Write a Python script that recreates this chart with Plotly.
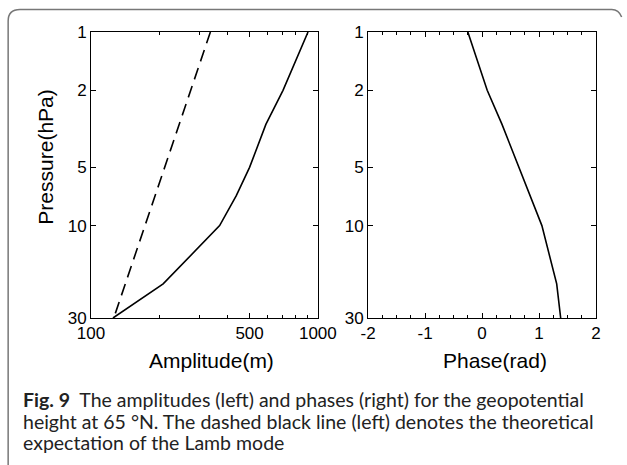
import numpy as np
import plotly.graph_objects as go

W, H = 627, 465
ML, MR, MT, MB = 91, 24, 32, 147

pressure = [1, 2, 3, 5, 7, 10, 20, 30]
amp_obs = [905, 702, 590, 500, 437, 369, 208, 125]
amp_lamb = [336, 275, 244, 211, 191, 173, 142, 126]
phase = [-0.25, 0.09, 0.35, 0.65, 0.85, 1.05, 1.31, 1.38]

p_ticks = [1, 2, 5, 10, 30]
amp_ticks = [100, 500, 1000]
amp_minor = [200, 300, 400, 600, 700, 800, 900]
phase_ticks = [-2, -1, 0, 1, 2]

caption_lines = [
    "<b>Fig. 9</b>  The amplitudes (left) and phases (right) for the geopotential",
    "height at 65 °N. The dashed black line (left) denotes the theoretical",
    "expectation of the Lamb mode",
]

PW = W - ML - MR
PH = H - MT - MB


def px(x):
    return (x - ML) / PW


def py(y):
    return (H - MB - y) / PH


fig = go.Figure()
fig.add_trace(go.Scatter(x=amp_obs, y=pressure, mode="lines",
                         line=dict(color="black", width=1.6),
                         xaxis="x", yaxis="y", showlegend=False))
fig.add_trace(go.Scatter(x=amp_lamb, y=pressure, mode="lines",
                         line=dict(color="black", width=1.6, dash="12px,7px"),
                         xaxis="x", yaxis="y", showlegend=False))
fig.add_trace(go.Scatter(x=phase, y=pressure, mode="lines",
                         line=dict(color="black", width=1.6),
                         xaxis="x2", yaxis="y2", showlegend=False))

tickfont = dict(family="Arial", size=17, color="black")
common = dict(showgrid=False, zeroline=False, showline=True, linecolor="black",
              linewidth=1, mirror="allticks", ticks="inside", ticklen=5,
              tickcolor="black", tickfont=tickfont)

yax = dict(type="log", range=[np.log10(30), 0], tickmode="array",
           tickvals=p_ticks, ticktext=[str(v) for v in p_ticks], **common)

fig.update_layout(
    width=W, height=H,
    margin=dict(l=ML, r=MR, t=MT, b=MB, pad=0),
    paper_bgcolor="white", plot_bgcolor="white",
    xaxis=dict(domain=[0, px(321)], type="log", range=[2, 3], anchor="y",
               tickmode="array", tickvals=amp_ticks,
               ticktext=[str(v) for v in amp_ticks],
               minor=dict(tickvals=amp_minor, ticks="inside", ticklen=3,
                          tickcolor="black"),
               **common),
    yaxis=dict(domain=[0, 1], anchor="x", **yax),
    xaxis2=dict(domain=[px(372), 1], range=[-2, 2], anchor="y2",
                tickmode="array", tickvals=phase_ticks,
                ticktext=[str(v) for v in phase_ticks],
                minor=dict(dtick=0.25, ticks="inside", ticklen=3,
                           tickcolor="black"),
                **common),
    yaxis2=dict(domain=[0, 1], anchor="x2", **yax),
)

titlefont = dict(family="Arial", size=21, color="black")
fig.add_annotation(text="Amplitude(m)", x=px(213), y=py(360), xref="paper", yref="paper",
                   showarrow=False, font=titlefont, xanchor="center", yanchor="middle")
fig.add_annotation(text="Phase(rad)", x=px(501), y=py(360), xref="paper", yref="paper",
                   showarrow=False, font=titlefont, xanchor="center", yanchor="middle")
fig.add_annotation(text="Pressure(hPa)", x=px(44), y=py(157), xref="paper", yref="paper",
                   showarrow=False, font=titlefont, textangle=-90,
                   xanchor="center", yanchor="middle")

capfont = dict(family="Lato", size=19.5, color="#222")
for i, line in enumerate(caption_lines):
    fig.add_annotation(text=line, x=px(20), y=py(399.5 + 21.6 * i), xref="paper", yref="paper",
                       showarrow=False, font=capfont, xanchor="left", yanchor="middle",
                       align="left")

frame = (f"M {px(7)} {py(470)} L {px(7)} {py(21)} Q {px(7)} {py(9.5)} {px(19)} {py(9.5)} "
         f"L {px(619)} {py(9.5)} Q {px(626)} {py(9.5)} {px(629)} {py(17)}")
fig.add_shape(type="path", path=frame, xref="paper", yref="paper",
              line=dict(color="#777", width=1.5), layer="below")

fig.write_html("out.html")
